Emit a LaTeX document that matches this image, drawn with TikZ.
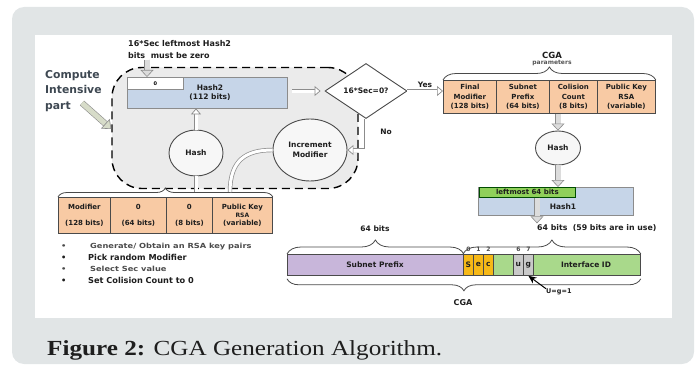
\documentclass[tikz,border=0pt]{standalone}
\usepackage{fontspec}
\setmainfont{Liberation Serif}
\newfontfamily\capfont[FakeStretch=1.17]{Liberation Serif}
\newfontfamily\dfont{DejaVu Sans}
\newfontfamily\widefont[FakeStretch=1.18]{DejaVu Sans}
\usetikzlibrary{shapes.geometric,decorations.pathreplacing,arrows.meta,calc}

\definecolor{panel}{HTML}{E1E5E6}
\definecolor{txt}{HTML}{1E1E1E}
\definecolor{zonefill}{HTML}{EBEBEB}
\definecolor{hashblue}{HTML}{C6D5E8}
\definecolor{peach}{HTML}{F8CAA4}
\definecolor{cellline}{HTML}{4A4A4A}
\definecolor{arrowgray}{HTML}{8C8C8C}
\definecolor{blockgray}{HTML}{DCDCDC}
\definecolor{leftgreen}{HTML}{8FD05A}
\definecolor{idgreen}{HTML}{A9D98B}
\definecolor{prefixpurple}{HTML}{C8B6DA}
\definecolor{secyellow}{HTML}{F6B817}
\definecolor{uggray}{HTML}{C9C9C9}
\definecolor{computecol}{HTML}{3E4852}
\definecolor{pointerfill}{HTML}{D7DCC9}

\tikzset{
  lbl/.style={font=\dfont\bfseries\fontsize{7.5}{9}\selectfont, text=txt, inner sep=0pt, align=center},
  tiny/.style={font=\dfont\bfseries\fontsize{6}{7}\selectfont, text=txt, inner sep=0pt, align=center},
  cell/.style={draw=cellline, line width=0.8pt, fill=peach, anchor=north west, inner sep=0pt,
    align=center, font=\dfont\bfseries\fontsize{7}{9.5}\selectfont, text=txt},
  hashbox/.style={draw=arrowgray, line width=0.8pt, fill=hashblue, inner sep=0pt},
  oval/.style={ellipse, draw=cellline, line width=0.9pt, fill=white!97!black, inner sep=0pt,
    font=\dfont\bfseries\fontsize{7.5}{9.5}\selectfont, text=txt, align=center},
  hollow/.style={draw=arrowgray, line width=0.7pt, double=white, double distance=3pt,
    -{Triangle[length=6pt, width=10pt, fill=white]}},
  hollowline/.style={draw=arrowgray, line width=0.7pt, double=white, double distance=3pt},
  grayarrow/.style={draw=arrowgray, line width=0.6pt, double=blockgray, double distance=5pt,
    -{Triangle[length=7pt, width=13pt, fill=blockgray]}},
  curly/.style={draw=cellline, line width=0.8pt, decorate,
    decoration={brace, amplitude=#1}},
  barpart/.style={draw=cellline, line width=0.8pt, anchor=north west, inner sep=0pt,
    minimum height=21pt},
  bitbox/.style={barpart, minimum width=10pt, font=\dfont\bfseries\fontsize{7.5}{9}\selectfont, text=txt},
  smallbullet/.style={anchor=west, inner sep=0pt, text=txt!80, font=\widefont\bfseries\fontsize{7}{8}\selectfont},
  bigbullet/.style={anchor=west, inner sep=0pt, text=txt, font=\dfont\bfseries\fontsize{8.2}{9}\selectfont},
}

\begin{document}
\begin{tikzpicture}[x=1pt, y=-1pt]
\useasboundingbox (0,0) rectangle (696,369);

% frame and white drawing area
\fill[panel, rounded corners=12pt] (12,7) rectangle (694,364);
\fill[white] (35,35) rectangle (672,318);

% caption
\node[anchor=base west, inner sep=0pt, font=\capfont\fontsize{21.5}{24}\selectfont, text=txt]
  (caption) at (47,355) {\textbf{Figure 2:} CGA Generation Algorithm.};

% ---------------- compute-intensive loop ----------------
\node[draw=black, line width=1.4pt, dash pattern=on 8pt off 5pt, fill=zonefill,
      rounded corners=30pt, minimum width=246pt, minimum height=121pt, inner sep=0pt]
  (zone) at (235,128) {};

\node[anchor=north west, inner sep=0pt, align=left, text=computecol,
      font=\dfont\bfseries\fontsize{10.8}{15.5}\selectfont] (compute) at (45,70)
  {Compute\\Intensive\\part};
\coordinate (pointstart) at (82,103);
\draw[draw=arrowgray, line width=0.6pt, double=pointerfill, double distance=5pt,
      -{Triangle[length=8pt, width=13pt, fill=pointerfill]}] (pointstart) -- (zone.west |- 0,129);

\node[anchor=north west, lbl, align=left, font=\dfont\bfseries\fontsize{8}{12}\selectfont]
  (topnote) at (128,40) {16*Sec leftmost Hash2\\bits\ \ must be zero};

\node[hashbox, minimum width=160pt, minimum height=31pt] (hashtwo) at (207,92.5) {};
\node[draw=arrowgray, line width=0.7pt, fill=white, anchor=north west, inner sep=0pt,
      minimum width=56pt, minimum height=12pt, font=\dfont\bfseries\fontsize{5}{6}\selectfont]
  (zeros) at (127,77) {0};
\node[lbl] (hashtwotext) at (210,92.5) {Hash2\\(112 bits)};
\draw[grayarrow] (topnote.south west -| zeros.west) ++(20,1) coordinate (notefoot) -- (notefoot |- zeros.north);

\node[diamond, draw=cellline, line width=0.9pt, fill=white, inner sep=0pt,
      minimum width=82pt, minimum height=55pt, lbl] (test) at (366,91) {16*Sec=0?};
\draw[hollow, shorten <=5pt, shorten >=4pt] (hashtwo.east |- test.west) -- (test.west);

\node[oval, minimum width=54pt, minimum height=46pt] (hashL) at (196,153) {Hash};
\node[oval, minimum width=74pt, minimum height=62pt] (inc) at (310,150) {Increment\\Modifier};

\draw[hollow] (hashL.north) -- (hashtwo.south -| hashL.north);
\draw[hollow] (test.south) |- (inc.east);
\node[lbl] (no) at (386,132) {No};

% ---------------- initial parameters ----------------
\node[cell, minimum width=52pt, minimum height=36pt] (c1) at (58,197) {Modifier\\[7pt](128 bits)};
\node[cell, minimum width=56pt, minimum height=36pt] (c2) at (110,197) {0\\[7pt](64 bits)};
\node[cell, minimum width=46pt, minimum height=36pt] (c3) at (166,197) {0\\[7pt](8 bits)};
\node[cell, minimum width=60pt, minimum height=36pt] (c4) at (212,197)
  {Public Key\\[-1.5pt]{\fontsize{6}{6.5}\selectfont RSA}\\[-1pt](variable)};
\draw[curly=9pt] (c1.north west) -- (c4.north east);

\coordinate (hashfeed) at (hashL.south |- 0,192);
\coordinate (incfeed) at (230,192);
\draw[hollowline] (hashfeed) -- (hashL.south);
\draw[hollowline] (incfeed) .. controls (230,160) and (246,150) .. (inc.west);

\node[smallbullet] (b1) at (61,247) {\makebox[29pt][l]{•}Generate/ Obtain an RSA key pairs};
\node[bigbullet] (b2) at (61,257.5) {\makebox[27pt][l]{•}Pick random Modifier};
\node[smallbullet] (b3) at (61,269) {\makebox[29pt][l]{•}Select Sec value};
\node[bigbullet] (b4) at (61,280) {\makebox[27pt][l]{•}Set Colision Count to 0};

% ---------------- final CGA parameters ----------------
\node[cell, minimum width=53pt, minimum height=33pt] (p1) at (443,80) {Final\\Modifier\\(128 bits)};
\node[cell, minimum width=53pt, minimum height=33pt] (p2) at (496,80) {Subnet\\Prefix\\(64 bits)};
\node[cell, minimum width=48pt, minimum height=33pt] (p3) at (549,80) {Colision\\Count\\(8 bits)};
\node[cell, minimum width=58pt, minimum height=33pt] (p4) at (597,80) {Public Key\\RSA\\(variable)};
\draw[curly=13pt] (p1.north west) -- (p4.north east);
\node[lbl, font=\dfont\bfseries\fontsize{8.5}{9}\selectfont] (cgaparam) at (552,55) {CGA};
\node[tiny, text=txt!75] (paramword) at (552,63.5) {parameters};

\draw[hollow] (test.east) -- (test.east -| p1.west);
\node[lbl] (yes) at (425,85) {Yes};

\node[oval, minimum width=45pt, minimum height=34pt] (hashR) at (558,148) {Hash};
\draw[grayarrow] (hashR.north |- p3.south) -- (hashR.north);

\node[hashbox, anchor=north west, minimum width=155pt, minimum height=28pt] (hashone) at (478,187) {};
\node[draw=black!70!green, line width=0.7pt, fill=leftgreen, anchor=north west, inner sep=0pt,
      minimum width=96pt, minimum height=10pt, lbl, font=\dfont\bfseries\fontsize{7}{8}\selectfont]
  (lm) at (479,187) {leftmost 64 bits};
\node[lbl] (hashonetext) at (563,207) {Hash1};
\draw[grayarrow] (hashR.south) -- (hashR.south |- hashone.north);

% ---------------- CGA address ----------------
\node[lbl, anchor=west, font=\dfont\bfseries\fontsize{7.8}{8}\selectfont] (usebits) at (537,228)
  {64 bits\ \ (59 bits are in use)};
\node[lbl, font=\dfont\bfseries\fontsize{7.5}{8}\selectfont] (prefixbits) at (375,229) {64 bits};
\draw[grayarrow, shorten >=1pt] (lm.south -| usebits.west) -- (usebits.north west);

\node[barpart, fill=prefixpurple, minimum width=176pt] (sp) at (287,254) {};
\node[lbl] (sptext) at (375,264.5) {Subnet Prefix};
\node[barpart, fill=idgreen, minimum width=177pt] (iid) at (463,254) {};
\node[lbl] (iidtext) at (586,264.5) {Interface ID};

\node[bitbox, fill=secyellow] (sb) at (463,254) {S};
\node[bitbox, fill=secyellow] (eb) at (473,254) {e};
\node[bitbox, fill=secyellow] (cb) at (483,254) {c};
\node[bitbox, fill=uggray] (ub) at (513,254) {u};
\node[bitbox, fill=uggray] (gb) at (523,254) {g};

\node[tiny, text=txt!80] (d0) at (sb.north) [yshift=5pt] {0};
\node[tiny, text=txt!80] (d1) at (eb.north) [yshift=5pt] {1};
\node[tiny, text=txt!80] (d2) at (cb.north) [yshift=5pt] {2};
\node[tiny, text=txt!80] (d6) at (ub.north) [yshift=5pt] {6};
\node[tiny, text=txt!80] (d7) at (gb.north) [yshift=5pt] {7};

\draw[curly=14pt] (sp.north west) -- (sp.north east);
\draw[curly=14pt] (iid.north west) -- (iid.north east);
\draw[curly=12pt] (iid.south east) ++(0,3) coordinate (cgaright) -- (sp.south west |- cgaright);
\node[lbl, font=\dfont\bfseries\fontsize{8}{9}\selectfont] (cgalabel) at (463,303) {CGA};

\node[tiny, anchor=west, font=\dfont\bfseries\fontsize{6.5}{7}\selectfont] (ugone) at (546,292) {U=g=1};
\draw[-{Stealth[length=8pt, width=7pt]}, line width=1pt] (ugone.north west) -- (gb.south);

\end{tikzpicture}
\end{document}
